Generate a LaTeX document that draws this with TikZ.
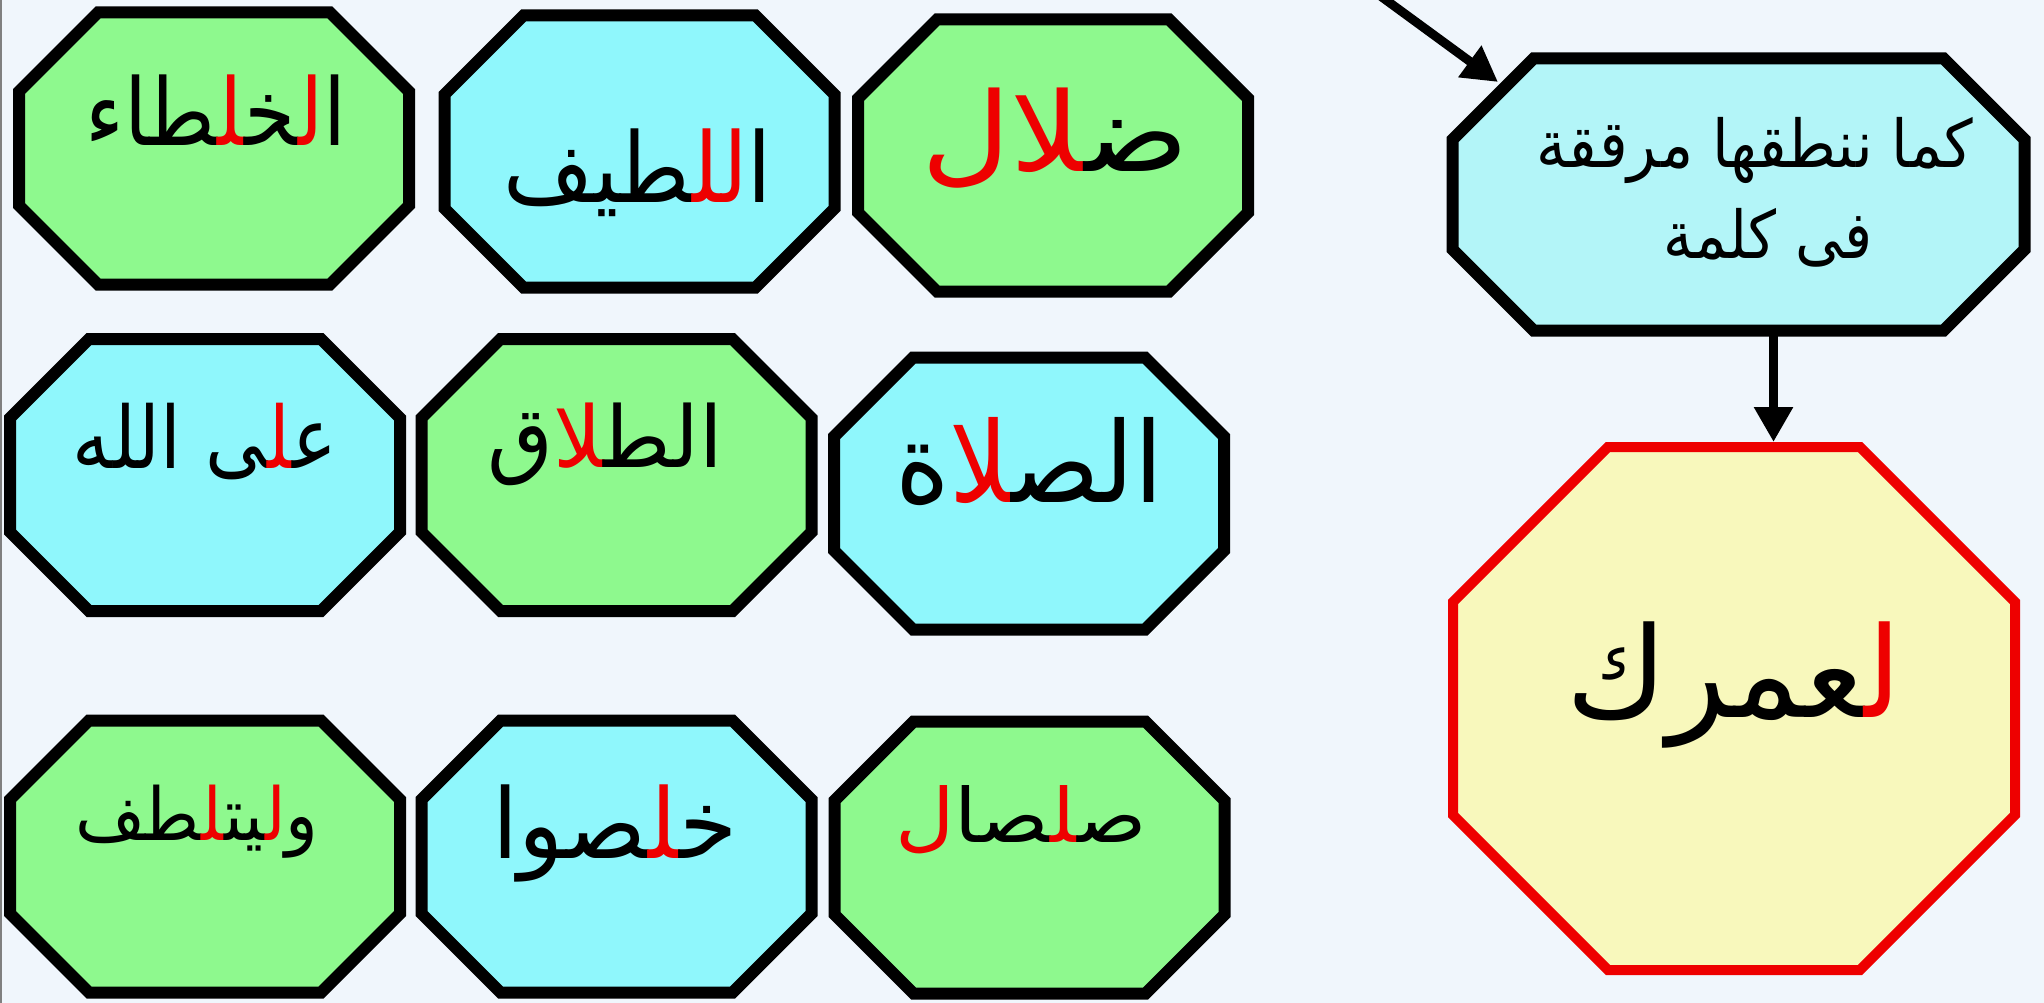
\documentclass[tikz,border=0pt]{standalone}
\usepackage{fontspec}
\usetikzlibrary{arrows.meta}
\newfontfamily\arfont[Script=Arabic]{DejaVu Sans}
\TeXXeTstate=1
\definecolor{bgc}{HTML}{F0F6FC}
\definecolor{grn}{HTML}{8EF98E}
\definecolor{cyn}{HTML}{8FF7FC}
\definecolor{cynl}{HTML}{B3F5F8}
\definecolor{ylw}{HTML}{F8F8BC}
\definecolor{rdc}{RGB}{238,0,0}
\def\zj{^^^^200d}
\newcommand\rd[1]{\textcolor{rdc}{#1}}
\newcommand\fsz[1]{\fontsize{#1}{#1}\selectfont}
\newcommand\octa[7]{%
  \node[box, minimum width=#4pt, minimum height=#5pt] (#1) at (#2,#3) {};
  \draw[#7] ([xshift=#6pt]#1.north west) -- ([xshift=-#6pt]#1.north east)
    -- ([yshift=-#6pt]#1.north east) -- ([yshift=#6pt]#1.south east)
    -- ([xshift=-#6pt]#1.south east) -- ([xshift=#6pt]#1.south west)
    -- ([yshift=#6pt]#1.south west) -- ([yshift=-#6pt]#1.north west) -- cycle;}
\tikzset{
  box/.style={shape=rectangle, inner sep=0pt, outer sep=0pt, draw=none},
  gbox/.style={draw=black, line width=12pt, fill=grn},
  cbox/.style={draw=black, line width=12pt, fill=cyn},
  lbox/.style={draw=black, line width=12pt, fill=cynl},
  ybox/.style={draw=rdc, line width=10pt, fill=ylw},
  txt/.style={inner sep=0pt, outer sep=0pt, anchor=base, font=\arfont},
  arr/.style={draw=black, line width=9pt, -{Triangle[length=35pt,width=37pt]}},
}
\begin{document}
\begin{tikzpicture}[x=1pt,y=-1pt]
\path[use as bounding box, fill=bgc] (0,0) rectangle (2044,1003);
\draw[gray, line width=2pt] (1,0) -- (1,1003);
% row 1
\octa{a}{214}{148.5}{390}{272}{79}{gbox}
\octa{b}{639.5}{151.5}{390}{272}{79}{cbox}
\octa{c}{1053}{155.5}{390}{272}{79}{gbox}
% row 2
\octa{d}{205}{475}{390}{272}{79}{cbox}
\octa{e}{616.5}{475}{390}{272}{79}{gbox}
\octa{f}{1029}{493.5}{390}{272}{79}{cbox}
% row 3
\octa{g}{205}{856.5}{390}{272}{79}{gbox}
\octa{h}{616.5}{856.5}{390}{272}{79}{cbox}
\octa{i}{1029.5}{857.5}{390}{272}{79}{gbox}
% right column
\octa{tb}{1738.5}{194.5}{572}{272}{81}{lbox}
\octa{yel}{1734}{708.5}{562}{523}{155}{ybox}
% texts
\node[txt, font=\arfont\fsz{93}] (ta) at (216,146) {\scalebox{0.89}[1]{{\zj طاء}\rd{\zj ل\zj}{\zj خ\zj}\rd{ل\zj}{ا}}};
\node[txt, font=\arfont\fsz{97}] (tbb) at (638,203) {\scalebox{0.90}[1]{{\zj طيف}\rd{لل\zj}{ا}}};
\node[txt, font=\arfont\fsz{110}] (tc) at (1055,172) {\scalebox{1.12}[1]{\rd{\zj لال}{ض\zj}}};
\node[txt, font=\arfont\fsz{86}] (td) at (205,468) {\scalebox{0.87}[1]{{الله} {\zj ى}\rd{\zj ل\zj}{ع\zj}}};
\node[txt, font=\arfont\fsz{85}] (te) at (605,467) {{ق}\rd{\zj لا}{الط\zj}};
\node[txt, font=\arfont\fsz{112}] (tf) at (1029,502) {\scalebox{0.93}[1]{{ة}\rd{\zj لا}{الص\zj}}};
\node[txt, font=\arfont\fsz{73}] (tg) at (197,840) {\scalebox{0.93}[1]{{\zj طف}\rd{\zj ل\zj}{\zj يت\zj}\rd{ل\zj}{و}}};
\node[txt, font=\arfont\fsz{97}] (th) at (615,858) {\scalebox{0.97}[1]{{\zj صوا}\rd{\zj ل\zj}{خ\zj}}};
\node[txt, font=\arfont\fsz{75}] (ti) at (1021,842) {\scalebox{1.09}[1]{\rd{ل}{\zj صا}\rd{\zj ل\zj}{ص\zj}}};
\node[txt, font=\arfont\fsz{126}] (ty) at (1734,717) {\scalebox{0.97}[1]{{\zj عمرك}\rd{ل\zj}}};
\node[txt, font=\arfont\fsz{66}] (tl1) at (1755,168) {\scalebox{0.91}[1]{\beginR كما ننطقها مرققة\endR}};
\node[txt, font=\arfont\fsz{66}] (tl2) at (1768,258) {\scalebox{0.89}[1]{\beginR فى كلمة\endR}};
% connectors
\coordinate (src) at (1375,-8);
\coordinate (tbin) at (1498,82);
\draw[arr] (src) -- (tbin);
\coordinate (dtop) at ([xshift=35pt]tb.south);
\coordinate (dbot) at (yel.north -| dtop);
\draw[arr, shorten >=5pt] (dtop) -- (dbot);
\end{tikzpicture}
\end{document}
